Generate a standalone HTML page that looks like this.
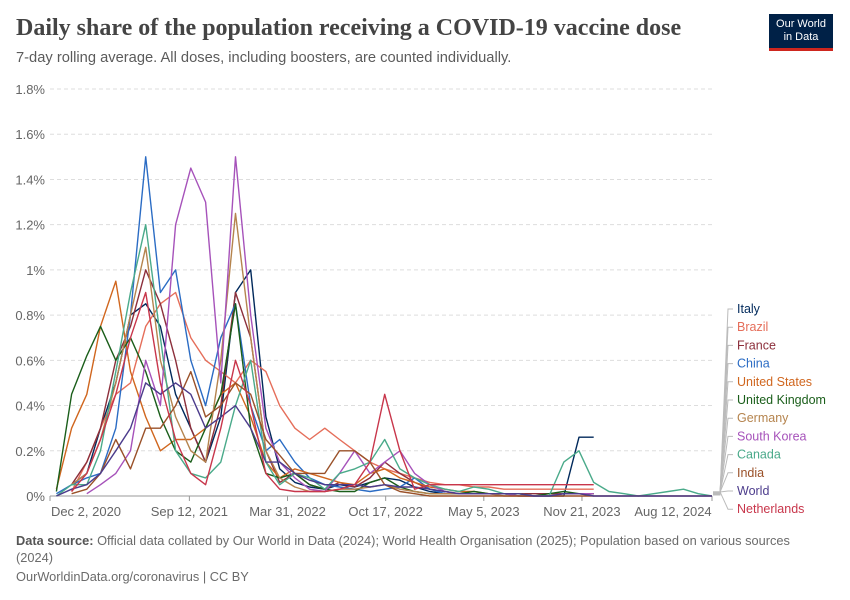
<!DOCTYPE html>
<html><head><meta charset="utf-8">
<style>
body{margin:0;background:#fff;width:850px;height:600px;overflow:hidden;font-family:"Liberation Sans",sans-serif;}
.t{position:absolute;left:16px;top:15px;font-family:"Liberation Serif",serif;font-size:24px;font-weight:bold;color:#444;}
.s{position:absolute;left:16px;top:50px;font-size:14.7px;color:#5b5b5b;}
.logo{position:absolute;left:769px;top:14px;width:64px;background:#002147;border-bottom:3px solid #ce261e;color:#fff;font-size:11px;line-height:13px;text-align:center;padding-top:4px;box-sizing:content-box;height:30px}
.f{position:absolute;left:16px;font-size:12.8px;color:#6b6b6b;}
</style></head><body>
<div class="t">Daily share of the population receiving a COVID-19 vaccine dose</div>
<div class="s">7-day rolling average. All doses, including boosters, are counted individually.</div>
<div class="logo">Our World<br>in Data</div>
<div class="f" style="top:532px;width:800px;line-height:17px"><b style="color:#555">Data source:</b> Official data collated by Our World in Data (2024); World Health Organisation (2025); Population based on various sources (2024)</div>
<div class="f" style="top:569px">OurWorldinData.org/coronavirus | CC BY</div>
<svg id="c" width="850" height="600" style="position:absolute;left:0;top:0"></svg>
<script>
const dates=["2020-12-15","2021-01-15","2021-02-15","2021-03-15","2021-04-15","2021-05-15","2021-06-15","2021-07-15","2021-08-15","2021-09-15","2021-10-15","2021-11-15","2021-12-15","2022-01-15","2022-02-15","2022-03-15","2022-04-15","2022-05-15","2022-06-15","2022-07-15","2022-08-15","2022-09-15","2022-10-15","2022-11-15","2022-12-15","2023-01-15","2023-02-15","2023-03-15","2023-04-15","2023-05-15","2023-06-15","2023-07-15","2023-08-15","2023-09-15","2023-10-15","2023-11-15","2023-12-15","2024-01-15","2024-02-15","2024-03-15","2024-04-15","2024-05-15","2024-06-15","2024-07-15","2024-08-12"];
const N=null;
const italy=[N,0.05,0.1,0.3,0.5,0.8,0.85,0.75,0.45,0.3,0.15,0.35,0.9,1.0,0.35,0.12,0.06,0.04,0.03,0.05,0.04,0.06,0.08,0.07,0.04,0.02,0.01,0.01,0.01,0.01,0.01,0.01,0.0,0.0,0.0,0.26,0.26,N,N,N,N,N,N,N,N];
const brazil=[N,0.02,0.15,0.3,0.45,0.5,0.75,0.85,0.9,0.7,0.6,0.55,0.5,0.6,0.55,0.4,0.3,0.25,0.3,0.25,0.2,0.15,0.12,0.1,0.08,0.06,0.05,0.05,0.04,0.04,0.03,0.03,0.03,0.03,0.03,0.03,0.03,N,N,N,N,N,N,N,N];
const france=[N,0.05,0.15,0.3,0.6,0.75,1.0,0.85,0.6,0.3,0.15,0.4,0.9,0.7,0.2,0.06,0.1,0.05,0.03,0.06,0.04,0.08,0.15,0.1,0.06,0.03,0.02,0.01,0.01,0.01,0.01,0.01,0.01,0.01,0.01,0.01,0.01,N,N,N,N,N,N,N,N];
const china=[0.01,0.05,0.08,0.1,0.3,0.8,1.5,0.9,1.0,0.6,0.4,0.7,0.85,0.4,0.2,0.25,0.15,0.08,0.05,0.04,0.03,0.02,0.03,0.04,0.08,0.03,0.01,0.01,0.01,0.01,0.01,N,N,N,N,N,N,N,N,N,N,N,N,N,N];
const us=[0.03,0.3,0.45,0.75,0.95,0.55,0.35,0.2,0.25,0.25,0.3,0.45,0.5,0.35,0.15,0.08,0.12,0.1,0.08,0.06,0.05,0.1,0.12,0.08,0.06,0.04,0.03,0.02,0.02,0.01,N,N,N,N,N,N,N,N,N,N,N,N,N,N,N];
const uk=[0.02,0.45,0.62,0.75,0.6,0.7,0.55,0.35,0.2,0.15,0.3,0.45,0.85,0.3,0.1,0.08,0.1,0.05,0.03,0.02,0.02,0.06,0.08,0.04,0.02,0.01,0.01,0.01,0.02,0.01,0.01,0.0,0.0,0.01,0.02,0.01,0.01,N,N,N,N,N,N,N,N];
const germany=[N,0.05,0.1,0.25,0.5,0.8,1.1,0.6,0.35,0.2,0.15,0.6,1.25,0.7,0.2,0.08,0.04,0.02,0.02,0.03,0.03,0.04,0.05,0.03,0.02,0.01,0.01,0.01,0.01,0.01,0.0,0.0,0.0,0.0,0.01,0.01,0.0,N,N,N,N,N,N,N,N];
const korea=[N,N,0.01,0.05,0.1,0.2,0.6,0.4,1.2,1.45,1.3,0.5,1.5,0.8,0.3,0.15,0.08,0.03,0.02,0.1,0.2,0.1,0.15,0.2,0.1,0.05,0.02,0.01,0.01,0.01,0.01,0.0,0.0,0.0,0.01,0.01,0.01,N,N,N,N,N,N,N,N];
const canada=[0.0,0.05,0.05,0.2,0.55,0.9,1.2,0.7,0.2,0.1,0.08,0.15,0.4,0.6,0.15,0.05,0.1,0.08,0.03,0.1,0.12,0.15,0.25,0.12,0.08,0.05,0.03,0.02,0.04,0.03,0.01,0.01,0.0,0.0,0.15,0.2,0.06,0.02,0.01,0.0,0.01,0.02,0.03,0.01,0.0];
const india=[N,0.01,0.03,0.1,0.25,0.12,0.3,0.3,0.4,0.55,0.35,0.4,0.5,0.45,0.25,0.18,0.1,0.1,0.1,0.2,0.2,0.15,0.05,0.02,0.01,0.0,0.0,0.0,0.0,0.0,0.0,0.0,0.0,0.0,0.0,0.0,0.0,0.0,0.0,0.0,0.0,0.0,0.0,0.0,0.0];
const world=[0.0,0.03,0.05,0.1,0.2,0.3,0.5,0.45,0.5,0.45,0.3,0.35,0.4,0.3,0.15,0.15,0.1,0.07,0.05,0.05,0.05,0.04,0.05,0.04,0.04,0.03,0.02,0.01,0.01,0.01,0.01,0.01,0.0,0.0,0.01,0.01,0.0,0.0,0.0,0.0,0.0,0.0,0.0,0.0,0.0];
const netherlands=[N,0.02,0.1,0.25,0.45,0.7,0.9,0.5,0.25,0.1,0.05,0.3,0.6,0.4,0.1,0.03,0.02,0.02,0.02,0.03,0.05,0.15,0.45,0.2,0.03,0.05,0.05,0.05,0.05,0.05,0.05,0.05,0.05,0.05,0.05,0.05,0.05,N,N,N,N,N,N,N,N];
const names=["Italy","Brazil","France","China","United States","United Kingdom","Germany","South Korea","Canada","India","World","Netherlands"];
const series=[italy,brazil,france,china,us,uk,germany,korea,canada,india,world,netherlands];
const colors=["#00295b","#e56e5a","#8c2f3b","#2b6cc4","#d0661e","#1a5e1a","#b5844e","#a652ba","#4aaa8a","#9a5129","#4c3c8c","#c8364b"];
const yTicks=[0,0.2,0.4,0.6,0.8,1,1.2,1.4,1.6,1.8];
const xTickLabels=["Dec 2, 2020","Sep 12, 2021","Mar 31, 2022","Oct 17, 2022","May 5, 2023","Nov 21, 2023","Aug 12, 2024"];
const xTickDates=["2020-12-02","2021-09-12","2022-03-31","2022-10-17","2023-05-05","2023-11-21","2024-08-12"];

const svg=document.getElementById('c');const NS="http://www.w3.org/2000/svg";
const X0=50,X1=712,Y0=496,Y1=89;
const t0=Date.parse("2020-12-02"),t1=Date.parse("2024-08-12");
const x=d=>X0+(Date.parse(d)-t0)/(t1-t0)*(X1-X0);
const y=v=>Y0-v/1.8*(Y0-Y1);
function mk(tag,attrs){const e=document.createElementNS(NS,tag);for(const k in attrs)e.setAttribute(k,attrs[k]);svg.appendChild(e);return e;}
yTicks.forEach(v=>{
 const l=mk('line',{x1:50,x2:X1,y1:y(v),y2:y(v),stroke:v===0?'#999':'#ddd','stroke-dasharray':v===0?'':'4,3'});
 
 
 const t=mk('text',{x:45,y:y(v)+5,'text-anchor':'end','font-size':13,fill:'#666'});
 t.textContent=(Math.round(v*10)/10)+'%';
 
 
});
xTickLabels.forEach((lab,i)=>{
 const xx=x(xTickDates[i]);
 const t=mk('text',{x:i===0?xx+36:(i===6?xx-39:xx),y:516,'text-anchor':'middle','font-size':13,fill:'#666'});
 t.textContent=lab;
 
 
 const tk=mk('line',{x1:xx,x2:xx,y1:496,y2:501,stroke:'#999'});
 
 
});
series.forEach((s,i)=>{
 let d='',pen=false;
 s.forEach((v,j)=>{if(v===null){pen=false;return;}d+=(pen?'L':'M')+x(dates[j]).toFixed(1)+','+y(v).toFixed(1);pen=true;});
 const p=mk('path',{d:d,fill:'none',stroke:colors[i],'stroke-width':1.4,'stroke-linejoin':'round'});
 
 
});
names.forEach((n,i)=>{
 const ly=313+i*18.2;
 const c=mk('polyline',{points:`713,${495-i*0.3} ${720},${495-i*0.3} ${728},${ly-4} ${733},${ly-4}`,fill:'none',stroke:'#bbb','stroke-width':1});
 
 
 const t=mk('text',{x:737,y:ly,'font-size':12.5,fill:colors[i]});
 t.textContent=n;
 
 
});
</script>
</body></html>
